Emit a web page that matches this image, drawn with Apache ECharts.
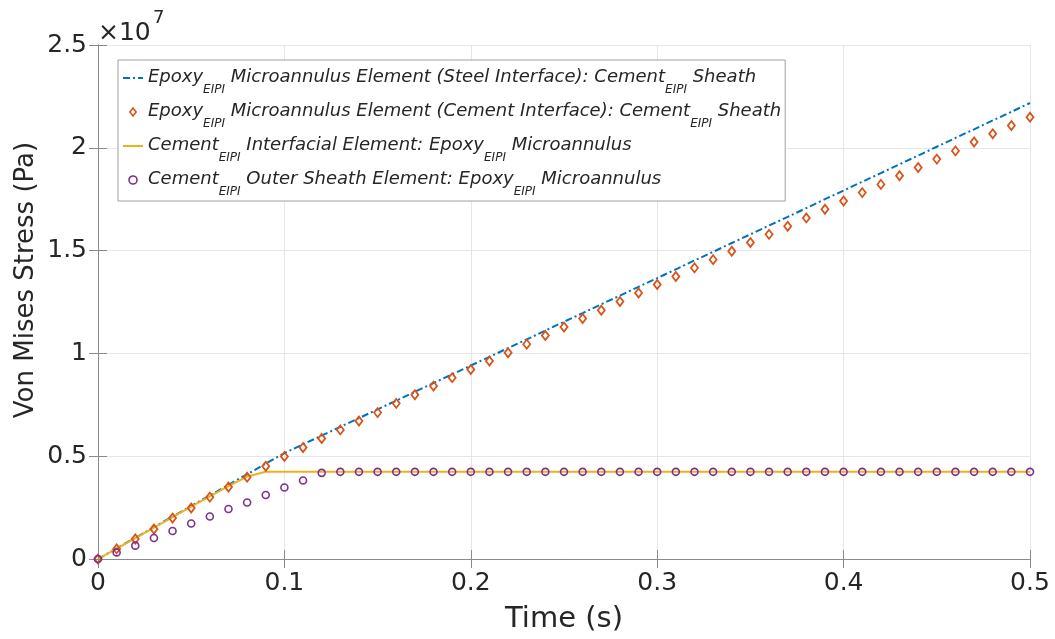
<!DOCTYPE html>
<html>
<head>
<meta charset="utf-8">
<script src="https://cdn.jsdelivr.net/npm/echarts@6/dist/echarts.min.js"></script>
<style>
  html, body { margin: 0; padding: 0; background: #ffffff; }
  #chart { width: 1055px; height: 639px; }
</style>
</head>
<body>
<div id="chart"></div>
<script>
// Time samples (s)
const time = [
  0, 0.01, 0.02, 0.03, 0.04, 0.05, 0.06, 0.07, 0.08, 0.09,
  0.10, 0.11, 0.12, 0.13, 0.14, 0.15, 0.16, 0.17, 0.18, 0.19,
  0.20, 0.21, 0.22, 0.23, 0.24, 0.25, 0.26, 0.27, 0.28, 0.29,
  0.30, 0.31, 0.32, 0.33, 0.34, 0.35, 0.36, 0.37, 0.38, 0.39,
  0.40, 0.41, 0.42, 0.43, 0.44, 0.45, 0.46, 0.47, 0.48, 0.49,
  0.50
];

// Von Mises stress, in units of 1e7 Pa
const epoxySteelInterface = [
  0, 0.052, 0.103, 0.155, 0.206, 0.258, 0.309, 0.361, 0.412, 0.464,
  0.515, 0.558, 0.600, 0.643, 0.685, 0.728, 0.770, 0.813, 0.856, 0.898,
  0.941, 0.983, 1.026, 1.068, 1.111, 1.154, 1.196, 1.239, 1.281, 1.324,
  1.366, 1.409, 1.452, 1.494, 1.537, 1.579, 1.622, 1.664, 1.707, 1.750,
  1.792, 1.835, 1.877, 1.920, 1.962, 2.005, 2.048, 2.090, 2.133, 2.175,
  2.218
];

const epoxyCementInterface = [
  0, 0.049, 0.097, 0.146, 0.199, 0.248, 0.301, 0.350, 0.398, 0.451,
  0.499, 0.542, 0.586, 0.628, 0.671, 0.712, 0.757, 0.799, 0.841, 0.882,
  0.922, 0.963, 1.003, 1.045, 1.087, 1.128, 1.170, 1.210, 1.252, 1.294,
  1.335, 1.374, 1.416, 1.456, 1.497, 1.539, 1.579, 1.618, 1.659, 1.701,
  1.741, 1.782, 1.822, 1.864, 1.904, 1.945, 1.985, 2.028, 2.068, 2.108,
  2.149
];

const cementInterfacial = [
  0, 0.051, 0.102, 0.153, 0.204, 0.255, 0.305, 0.355, 0.401, 0.424,
  0.424, 0.424, 0.424, 0.424, 0.424, 0.424, 0.424, 0.424, 0.424, 0.424,
  0.424, 0.424, 0.424, 0.424, 0.424, 0.424, 0.424, 0.424, 0.424, 0.424,
  0.424, 0.424, 0.424, 0.424, 0.424, 0.424, 0.424, 0.424, 0.424, 0.424,
  0.424, 0.424, 0.424, 0.424, 0.424, 0.424, 0.424, 0.424, 0.424, 0.424,
  0.424
];

const cementOuterSheath = [
  0, 0.032, 0.065, 0.102, 0.136, 0.173, 0.207, 0.243, 0.275, 0.311,
  0.348, 0.382, 0.419, 0.424, 0.424, 0.424, 0.424, 0.424, 0.424, 0.424,
  0.424, 0.424, 0.424, 0.424, 0.424, 0.424, 0.424, 0.424, 0.424, 0.424,
  0.424, 0.424, 0.424, 0.424, 0.424, 0.424, 0.424, 0.424, 0.424, 0.424,
  0.424, 0.424, 0.424, 0.424, 0.424, 0.424, 0.424, 0.424, 0.424, 0.424,
  0.424
];

// Axis ticks
const timeTicks = [0, 0.1, 0.2, 0.3, 0.4, 0.5];
const stressTicks = [0, 0.5, 1, 1.5, 2, 2.5];

// Legend labels: [text, style] runs; 's' runs are subscripts
const legendRuns = {
  steel: [['Epoxy', 'n'], ['EIPI', 's'], [' Microannulus Element (Steel Interface): Cement', 'n'], ['EIPI', 's'], [' Sheath', 'n']],
  cement: [['Epoxy', 'n'], ['EIPI', 's'], [' Microannulus Element (Cement Interface): Cement', 'n'], ['EIPI', 's'], [' Sheath', 'n']],
  interfacial: [['Cement', 'n'], ['EIPI', 's'], [' Interfacial Element: Epoxy', 'n'], ['EIPI', 's'], [' Microannulus', 'n']],
  outer: [['Cement', 'n'], ['EIPI', 's'], [' Outer Sheath Element: Epoxy', 'n'], ['EIPI', 's'], [' Microannulus', 'n']]
};

const COLORS = { blue: '#0072BD', orange: '#D95319', yellow: '#EDB120', purple: '#7E2F8E' };
const FONT = 'DejaVu Sans';
const TEXT = '#262626';
const AXIS = '#8a8a8a';
const DIAMOND_ICON = 'path://M0,-4.5L3.5,0L0,4.5L-3.5,0Z';

const pairs = (ys) => time.map((t, i) => [t, ys[i]]);
const richLabel = (runs) => runs.map(([txt, st]) => '{' + st + '|' + txt + '}').join('');

const xMin = timeTicks[0], xMax = timeTicks[timeTicks.length - 1], xStep = timeTicks[1] - timeTicks[0];
const yMin = stressTicks[0], yMax = stressTicks[stressTicks.length - 1], yStep = stressTicks[1] - stressTicks[0];

const baseAxis = {
  axisLine: { show: true, lineStyle: { color: AXIS, width: 1 } },
  axisTick: { show: true, inside: true, length: 9, lineStyle: { color: AXIS, width: 1 } }
};

const chart = echarts.init(document.getElementById('chart'), null, { renderer: 'canvas' });

chart.setOption({
  animation: false,
  backgroundColor: '#ffffff',
  grid: { left: 98, right: 25, top: 45, bottom: 79 },
  xAxis: [
    Object.assign({}, baseAxis, {
      type: 'value', min: xMin, max: xMax, interval: xStep, position: 'bottom',
      name: 'Time (s)', nameLocation: 'middle', nameGap: 46,
      nameTextStyle: { fontFamily: FONT, fontSize: 29, color: TEXT },
      axisLabel: { fontFamily: FONT, fontSize: 25, color: TEXT, margin: 12 },
      splitLine: { show: true, lineStyle: { color: '#e6e6e6', width: 1 } }
    }),
    Object.assign({}, baseAxis, {
      type: 'value', min: xMin, max: xMax, interval: xStep, position: 'top',
      axisLabel: { show: false }, splitLine: { show: false }
    })
  ],
  yAxis: [
    Object.assign({}, baseAxis, {
      type: 'value', min: yMin, max: yMax, interval: yStep, position: 'left',
      axisLabel: { fontFamily: FONT, fontSize: 25, color: TEXT, margin: 11 },
      splitLine: { show: true, lineStyle: { color: '#e6e6e6', width: 1 } }
    }),
    Object.assign({}, baseAxis, {
      type: 'value', min: yMin, max: yMax, interval: yStep, position: 'right',
      axisLabel: { show: false }, splitLine: { show: false }
    })
  ],
  legend: {
    orient: 'vertical',
    left: 118,
    top: 60,
    padding: [8, 4, 3, 4],
    itemGap: 6,
    itemWidth: 20,
    itemHeight: 8,
    backgroundColor: '#ffffff',
    borderColor: '#a0a0a0',
    borderWidth: 1,
    selectedMode: false,
    formatter: (name) => richLabel(legendRuns[name]),
    textStyle: {
      color: TEXT,
      rich: {
        n: { fontFamily: FONT, fontStyle: 'italic', fontSize: 18, lineHeight: 20, verticalAlign: 'top', color: TEXT },
        s: { fontFamily: FONT, fontStyle: 'italic', fontSize: 12, lineHeight: 12, verticalAlign: 'top', padding: [16, 0, 0, 0], color: TEXT }
      }
    },
    data: [
      { name: 'steel', itemStyle: { opacity: 0 } },
      { name: 'cement', icon: DIAMOND_ICON, itemStyle: { borderWidth: 1.6 } },
      { name: 'interfacial', itemStyle: { opacity: 0 } },
      { name: 'outer', itemStyle: { borderWidth: 1.6 } }
    ]
  },
  graphic: [
    { type: 'text', x: 98, y: 33, silent: true,
      style: { text: '×10', fontFamily: FONT, fontSize: 25, fill: TEXT, verticalAlign: 'middle' } },
    { type: 'text', x: 153, y: 18, silent: true,
      style: { text: '7', fontFamily: FONT, fontSize: 18, fill: TEXT, verticalAlign: 'middle' } },
    { type: 'text', x: 26, y: 280, rotation: Math.PI / 2, silent: true,
      style: { text: 'Von Mises Stress (Pa)', fontFamily: FONT, fontSize: 26, fill: TEXT, align: 'center', verticalAlign: 'middle' } }
  ],
  series: [
    {
      name: 'steel', type: 'line', data: pairs(epoxySteelInterface),
      symbol: 'none', z: 2,
      lineStyle: { color: COLORS.blue, width: 2, type: [7, 3, 2, 3] },
      itemStyle: { color: COLORS.blue }
    },
    {
      name: 'cement', type: 'scatter', data: pairs(epoxyCementInterface),
      symbol: 'diamond', symbolSize: [7, 9], z: 4,
      itemStyle: { color: 'rgba(255,255,255,0)', borderColor: COLORS.orange, borderWidth: 1.8, opacity: 1 }
    },
    {
      name: 'interfacial', type: 'line', data: pairs(cementInterfacial),
      symbol: 'none', z: 3,
      lineStyle: { color: COLORS.yellow, width: 2 },
      itemStyle: { color: COLORS.yellow }
    },
    {
      name: 'outer', type: 'scatter', data: pairs(cementOuterSheath),
      symbol: 'circle', symbolSize: 7, z: 5,
      itemStyle: { color: 'rgba(255,255,255,0)', borderColor: COLORS.purple, borderWidth: 1.6, opacity: 1 }
    }
  ]
});
</script>
</body>
</html>
